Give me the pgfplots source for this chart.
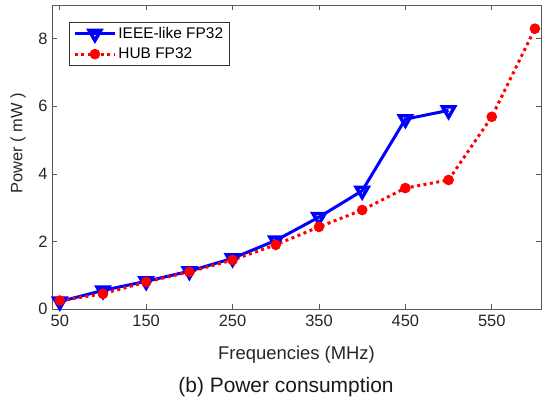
\documentclass[border=0pt]{standalone}
\usepackage{fontspec}
\setmainfont{Liberation Sans}
\usepackage{pgfplots}
\pgfplotsset{compat=1.18}
\begin{document}
\begin{tikzpicture}
\path[use as bounding box] (-52bp,-93bp) rectangle (490bp,309bp);
\begin{axis}[at={(0,0)}, anchor=south west, scale only axis, width=489bp, height=304bp,
  xmin=41, xmax=607, ymin=0, ymax=9,
  xtick={50,150,...,550}, ytick={0,2,4,6,8},
  tick align=inside, major tick length=5bp,
  axis line style={draw=black!65, line width=0.6bp}, tick style={black!65, line width=0.6bp},
  tick label style={font=\fontsize{16.5}{18}\selectfont, text=black!85},
  xticklabel style={yshift=-3bp},
  yticklabel style={xshift=-1bp},
  /pgf/number format/assume math mode=true,
  xlabel={Frequencies (MHz)}, ylabel={Power ( mW )},
  xlabel style={font=\fontsize{18.5}{20}\selectfont, text=black!85, at={(axis description cs:0.5,0)}, anchor=center, yshift=-46bp},
  ylabel style={font=\fontsize{16.5}{20}\selectfont, text=black!85, at={(axis description cs:0,0.545)}, anchor=center, yshift=34bp},
  legend style={at={(axis description cs:0.035,0.944)}, anchor=north west, draw=black!80, line width=0.6bp,
    font=\fontsize{15.5}{17}\selectfont, inner xsep=4bp, inner ysep=3bp, row sep=4bp},
  legend cell align=left,
  legend image code/.code={\draw[mark repeat=2, mark phase=2, #1] plot coordinates {(0bp,0bp) (20bp,0bp) (40bp,0bp)};},
]
\addplot[blue, line width=3bp, mark=triangle, mark size=6.8bp, mark options={rotate=180, solid, line width=3.5bp}]
coordinates {(50,0.22) (100,0.55) (150,0.82) (200,1.12) (250,1.50) (300,2.03) (350,2.72) (400,3.50) (450,5.62) (500,5.88)};
\addlegendentry{IEEE-like FP32}
\addplot[red, line width=3bp, dash pattern=on 3bp off 3.5bp, mark=*, mark size=4.8bp, mark options={solid, fill=red, line width=1bp}]
coordinates {(50,0.25) (100,0.45) (150,0.80) (200,1.10) (250,1.45) (300,1.90) (350,2.43) (400,2.93) (450,3.58) (500,3.82) (550,5.69) (600,8.30)};
\addlegendentry{HUB FP32}
\end{axis}
\node[font=\fontsize{21}{24}\selectfont, text=black!90] at (234bp,-78bp) {(b) Power consumption};
\end{tikzpicture}
\end{document}
